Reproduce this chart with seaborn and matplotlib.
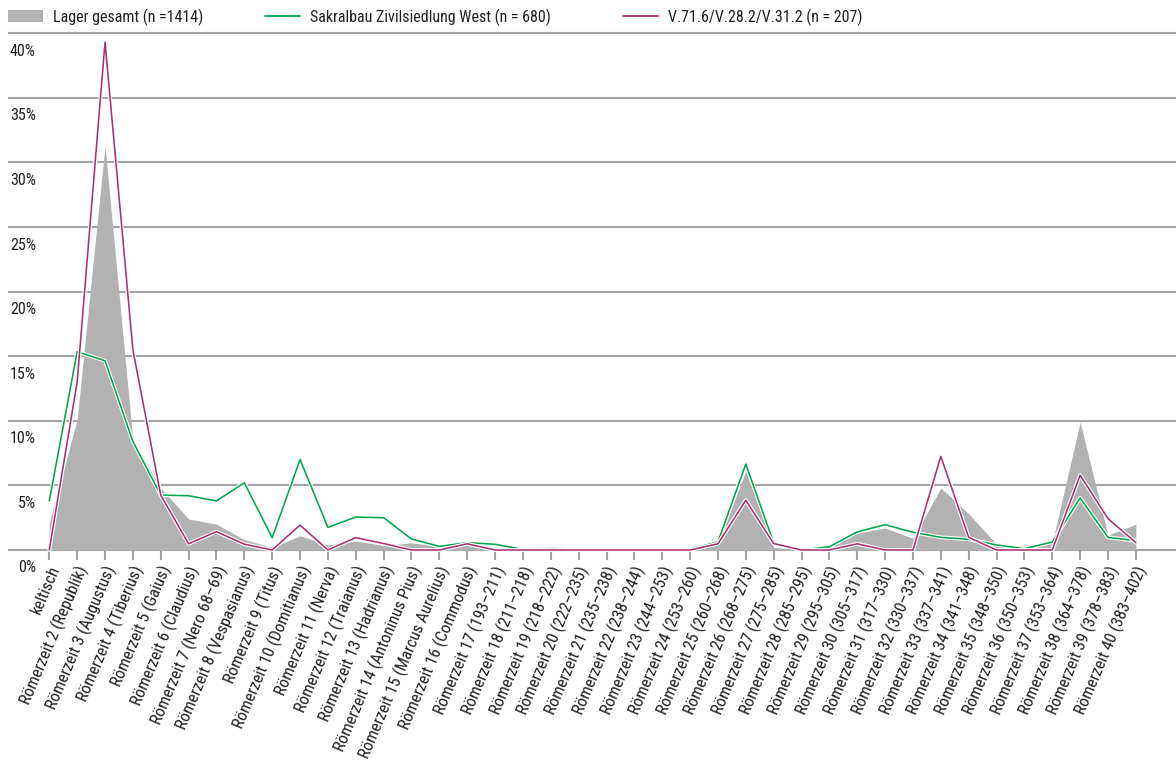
import matplotlib
matplotlib.use("Agg")
import matplotlib.pyplot as plt
import matplotlib.patheffects as pe
from matplotlib import font_manager as fm
from matplotlib.lines import Line2D
from matplotlib.patches import Patch
from matplotlib.transforms import offset_copy, ScaledTranslation
import seaborn as sns
import pandas as pd

# ==========================================================
# DATA (shares in %)
# ==========================================================

labels = [
    "keltisch",
    "Römerzeit 2 (Republik)",
    "Römerzeit 3 (Augustus)",
    "Römerzeit 4 (Tiberius)",
    "Römerzeit 5 (Gaius)",
    "Römerzeit 6 (Claudius)",
    "Römerzeit 7 (Nero 68–69)",
    "Römerzeit 8 (Vespasianus)",
    "Römerzeit 9 (Titus)",
    "Römerzeit 10 (Domitianus)",
    "Römerzeit 11 (Nerva)",
    "Römerzeit 12 (Traianus)",
    "Römerzeit 13 (Hadrianus)",
    "Römerzeit 14 (Antoninus Pius)",
    "Römerzeit 15 (Marcus Aurelius)",
    "Römerzeit 16 (Commodus)",
    "Römerzeit 17 (193–211)",
    "Römerzeit 18 (211–218)",
    "Römerzeit 19 (218–222)",
    "Römerzeit 20 (222–235)",
    "Römerzeit 21 (235–238)",
    "Römerzeit 22 (238–244)",
    "Römerzeit 23 (244–253)",
    "Römerzeit 24 (253–260)",
    "Römerzeit 25 (260–268)",
    "Römerzeit 26 (268–275)",
    "Römerzeit 27 (275–285)",
    "Römerzeit 28 (285–295)",
    "Römerzeit 29 (295–305)",
    "Römerzeit 30 (305–317)",
    "Römerzeit 31 (317–330)",
    "Römerzeit 32 (330–337)",
    "Römerzeit 33 (337–341)",
    "Römerzeit 34 (341–348)",
    "Römerzeit 35 (348–350)",
    "Römerzeit 36 (350–353)",
    "Römerzeit 37 (353–364)",
    "Römerzeit 38 (364–378)",
    "Römerzeit 39 (378–383)",
    "Römerzeit 40 (383–402)",
]

lager = [
    2.1, 10.1, 31.3, 8.5, 4.8, 2.4, 2.0, 0.8, 0.2, 1.1,
    0.4, 0.7, 0.35, 0.55, 0.3, 0.4, 0.15, 0.18, 0.28, 0.13,
    0.05, 0.07, 0.05, 0.05, 0.55, 6.1, 0.2, 0.0, 0.2, 1.3,
    1.7, 0.9, 4.8, 2.8, 0.45, 0.05, 0.55, 9.9, 1.15, 2.0,
]

sakral = [
    3.8, 15.35, 14.65, 8.4, 4.25, 4.2, 3.8, 5.2, 0.95, 7.0,
    1.75, 2.55, 2.5, 0.85, 0.28, 0.57, 0.44, 0.05, 0.05, 0.05,
    0.0, 0.05, 0.0, 0.07, 0.62, 6.65, 0.55, 0.0, 0.25, 1.4,
    1.96, 1.37, 0.98, 0.83, 0.39, 0.1, 0.62, 4.03, 0.98, 0.72,
]

v71 = [
    0.0, 13.0, 39.3, 15.5, 4.25, 0.48, 1.42, 0.45, 0.0, 1.93,
    0.0, 0.96, 0.5, 0.0, 0.0, 0.48, 0.0, 0.0, 0.0, 0.0,
    0.0, 0.0, 0.0, 0.0, 0.48, 3.85, 0.5, 0.0, 0.0, 0.48,
    0.0, 0.0, 7.24, 0.98, 0.0, 0.0, 0.0, 5.79, 2.43, 0.57,
]

yticks = [0, 5, 10, 15, 20, 25, 30, 35, 40]

name_lager = "Lager gesamt (n =1414)"
name_sakral = "Sakralbau Zivilsiedlung West (n = 680)"
name_v71 = "V.71.6/V.28.2/V.31.2 (n = 207)"

df = pd.DataFrame({
    "pos": range(len(labels)),
    "label": labels,
    "lager": lager,
    "sakral": sakral,
    "v71": v71,
})

# ==========================================================
# STYLE
# ==========================================================

GRAY_AREA = "#b1b2b1"
GRID = "#a3a3a3"
GREEN = "#00a651"
MAGENTA = "#a8326f"
TEXT = "#231f20"

sns.set_theme(style="white")

installed = {f.name for f in fm.fontManager.ttflist}
narrow = next(
    (f for f in ["Roboto Condensed", "Liberation Sans Narrow", "Open Sans Condensed"]
     if f in installed),
    None
)
if narrow:
    plt.rcParams["font.family"] = [narrow, "DejaVu Sans"]
else:
    plt.rcParams["font.family"] = ["DejaVu Sans"]

FS = 11.5
FS_X = 12

# ==========================================================
# FIGURE
# ==========================================================

W, H = 1176, 760
fig = plt.figure(figsize=(W / 100, H / 100), dpi=100)

base_px = 550
px_per_pct = 12.92
ymin, ymax = -0.6, 40.3
top_px = base_px - ymax * px_per_pct
bot_px = base_px - ymin * px_per_pct
ax = fig.add_axes([8 / W, 1 - bot_px / H, 1 - 8 / W, (bot_px - top_px) / H])

step = 27.86
first_px = 49.3
ax.set_xlim(-(first_px - 8) / step, (W - first_px) / step)
ax.set_ylim(ymin, ymax)

# area for the whole camp
ax.fill_between(df["pos"], 0, df["lager"], color=GRAY_AREA, lw=0, zorder=2)

halo = [pe.Stroke(linewidth=2.8, foreground="white"), pe.Normal()]

sns.lineplot(data=df, x="pos", y="sakral", color=GREEN, lw=1.15,
             path_effects=halo, ax=ax, zorder=3)
sns.lineplot(data=df, x="pos", y="v71", color=MAGENTA, lw=1.15,
             path_effects=halo, ax=ax, zorder=4)

# grid
ax.set_yticks(yticks)
ax.yaxis.grid(True, color=GRID, lw=1.5)
ax.set_axisbelow(True)
for s in ax.spines.values():
    s.set_visible(False)
ax.spines["bottom"].set_position(("data", 0))

ax.tick_params(axis="y", length=0, labelleft=False)

ylab_tr = offset_copy(ax.get_yaxis_transform(), fig=fig, x=28, y=-18, units="dots")
for v in yticks:
    ax.text(0, v, f"{v}%", transform=ylab_tr, ha="right", va="center",
            fontsize=FS, color=TEXT)

# x ticks
ax.set_xticks(df["pos"])
ax.set_xticklabels(df["label"], rotation=67, ha="right", va="center",
                   rotation_mode="anchor", fontsize=FS_X, color=TEXT)
ax.tick_params(axis="x", length=7, width=1.5, color=GRID, pad=5, bottom=True)
shift = ScaledTranslation(6 / 100, 0, fig.dpi_scale_trans)
for t in ax.get_xticklabels():
    t.set_transform(t.get_transform() + shift)

ax.set_xlabel("")
ax.set_ylabel("")

# legend: one entry per block, placed like the reference
entries = [
    (Patch(facecolor=GRAY_AREA, edgecolor="none"), name_lager, 8),
    (Line2D([0], [0], color=GREEN, lw=1.3), name_sakral, 265),
    (Line2D([0], [0], color=MAGENTA, lw=1.3), name_v71, 623),
]
for handle, text, x_px in entries:
    fig.legend(
        [handle], [text],
        loc="center left", bbox_to_anchor=(x_px / W, 1 - 17 / H),
        frameon=False, fontsize=FS,
        handlelength=2.2, handleheight=0.75, handletextpad=0.62,
        borderaxespad=0, borderpad=0, labelcolor=TEXT,
    )

fig.savefig("out.png", dpi=100)
